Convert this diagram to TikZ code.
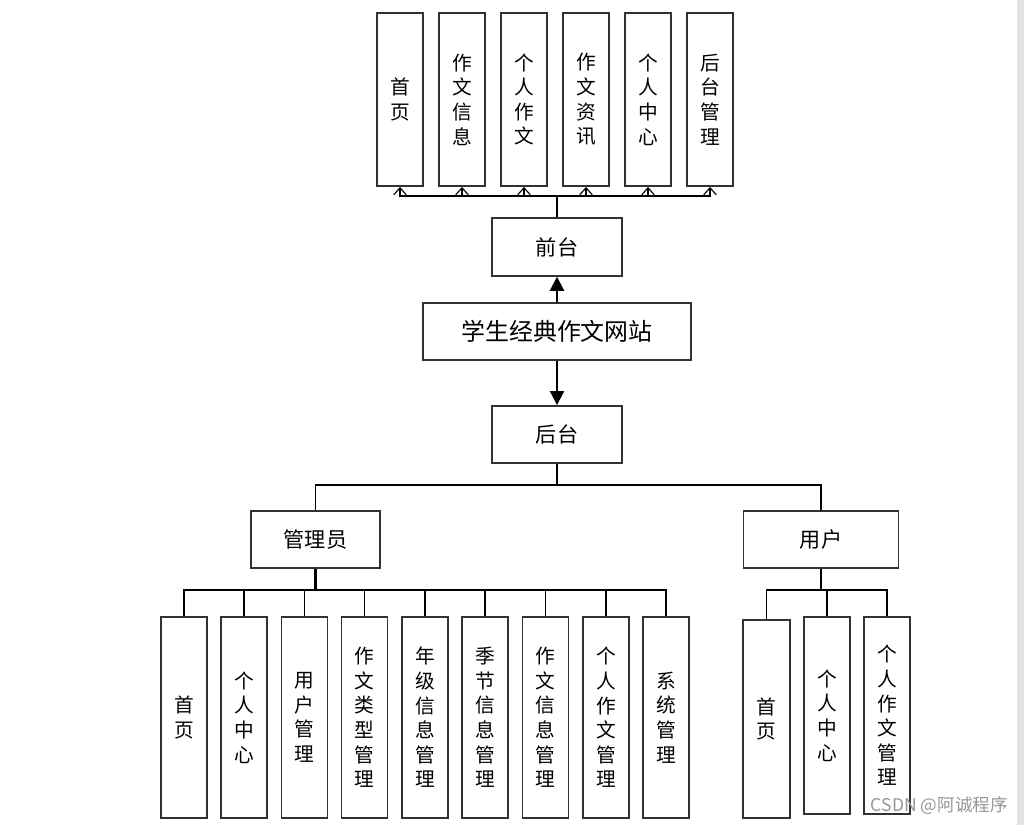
\documentclass[tikz,border=0pt]{standalone}
\usepackage{fontspec}
\usepackage{tikz}
\usepackage{xcolor}
\newfontfamily\cjk{Noto Sans CJK SC}
\usetikzlibrary{arrows.meta,positioning}
\definecolor{framegray}{RGB}{50,50,50}
\definecolor{stripgray}{RGB}{230,227,227}
\definecolor{markgray}{RGB}{150,150,150}
\tikzset{
  box/.style={draw=framegray,line width=1.3pt,inner sep=0pt,minimum height=1.44cm,font=\cjk\fontsize{15}{18}\selectfont},
  tallbox/.style={draw=framegray,line width=1.3pt,inner sep=0pt,minimum width=1.15cm,align=center,font=\cjk\fontsize{14}{17.5}\selectfont},
  wire/.style={draw=black,line width=0.8pt},
  openarrow/.style={wire,-{Straight Barb[length=5pt,width=9pt]}},
  solidarrow/.style={draw=black,line width=1.4pt,-{Triangle[length=10pt,width=10pt]}}
}

\begin{document}
\begin{tikzpicture}[x=0.025cm,y=-0.025cm]
\useasboundingbox (0,0) rectangle (1024,825);
\fill[stripgray](1017,0) rectangle (1024,825);
% front end
\node[tallbox,minimum height=4.325cm] (fhome) at (400,99.5) {首\\页};
\node[tallbox,minimum height=4.325cm] (finfo) at (462,99.5) {作\\文\\信\\息};
\node[tallbox,minimum height=4.325cm] (fmine) at (524,99.5) {个\\人\\作\\文};
\node[tallbox,minimum height=4.325cm] (fnews) at (586,99.5) {作\\文\\资\\讯};
\node[tallbox,minimum height=4.325cm] (fcenter) at (648,99.5) {个\\人\\中\\心};
\node[tallbox,minimum height=4.325cm] (fadmin) at (710,99.5) {后\\台\\管\\理};
\node[box,minimum width=3.25cm] (front) at (557,247) {前台};
\coordinate (fbus) at (557,196);
\draw[wire,line width=1.3pt](front.north) -- (fbus);
\draw[openarrow](fbus) -| (fhome.south);
\draw[openarrow](fbus) -| (finfo.south);
\draw[openarrow](fbus) -| (fmine.south);
\draw[openarrow](fbus) -| (fnews.south);
\draw[openarrow](fbus) -| (fcenter.south);
\draw[openarrow](fbus) -| (fadmin.south);
% site
\node[box,minimum width=6.7cm,minimum height=1.425cm,font=\cjk\fontsize{17}{20}\selectfont] (site) at (557,331.5) {学生经典作文网站};
\node[box,minimum width=3.25cm,minimum height=1.425cm] (back) at (557,434.5) {后台};
\draw[solidarrow](site.north) -- (front.south);
\draw[solidarrow](site.south) -- (back.north);
% back end
\node[box,minimum width=3.225cm,minimum height=1.425cm] (admin) at (315.5,539.5) {管理员};
\node[box,minimum width=3.875cm] (user) at (821,539.5) {用户};
\coordinate (bbus) at (557,485);
\draw[wire](back.south) -- (bbus);
\draw[wire](bbus) -| (admin.north);
\draw[wire](bbus) -| (user.north);
% admin functions
\node[tallbox,minimum height=5.025cm] (ahome) at (184,717.5) {首\\页};
\node[tallbox,minimum height=5.025cm] (acenter) at (244,717.5) {个\\人\\中\\心};
\node[tallbox,minimum height=5.025cm] (auser) at (304.5,717.5) {用\\户\\管\\理};
\node[tallbox,minimum height=5.025cm] (atype) at (364.5,717.5) {作\\文\\类\\型\\管\\理};
\node[tallbox,minimum height=5.025cm] (agrade) at (425,717.5) {年\\级\\信\\息\\管\\理};
\node[tallbox,minimum height=5.025cm] (aseason) at (485,717.5) {季\\节\\信\\息\\管\\理};
\node[tallbox,minimum height=5.025cm] (aessay) at (545.5,717.5) {作\\文\\信\\息\\管\\理};
\node[tallbox,minimum height=5.025cm] (amine) at (606,717.5) {个\\人\\作\\文\\管\\理};
\node[tallbox,minimum height=5.025cm] (asys) at (666,717.5) {系\\统\\管\\理};
\coordinate (abus) at (315.5,590);
\draw[wire,line width=1.8pt](admin.south) -- (abus);
\draw[wire](abus) -| (ahome.north);
\draw[wire](abus) -| (acenter.north);
\draw[wire](abus) -| (auser.north);
\draw[wire](abus) -| (atype.north);
\draw[wire](abus) -| (agrade.north);
\draw[wire](abus) -| (aseason.north);
\draw[wire](abus) -| (aessay.north);
\draw[wire](abus) -| (amine.north);
\draw[wire](abus) -| (asys.north);
% user functions
\node[tallbox,minimum width=1.175cm,minimum height=4.95cm] (uhome) at (766.5,719) {首\\页};
\node[tallbox,minimum height=4.925cm] (ucenter) at (827,715.5) {个\\人\\中\\心};
\node[tallbox,minimum height=4.925cm] (umine) at (887,715.5) {个\\人\\作\\文\\管\\理};
\coordinate (ubus) at (821,590);
\draw[wire](user.south) -- (ubus);
\draw[wire](ubus) -| (uhome.north);
\draw[wire](ubus) -| (ucenter.north);
\draw[wire](ubus) -| (umine.north);
\node[anchor=east,text=markgray,inner sep=0pt,font=\cjk\fontsize{12.5}{15}\selectfont] (mark) at (1008,806) {CSDN @阿诚程序};
\end{tikzpicture}
\end{document}
